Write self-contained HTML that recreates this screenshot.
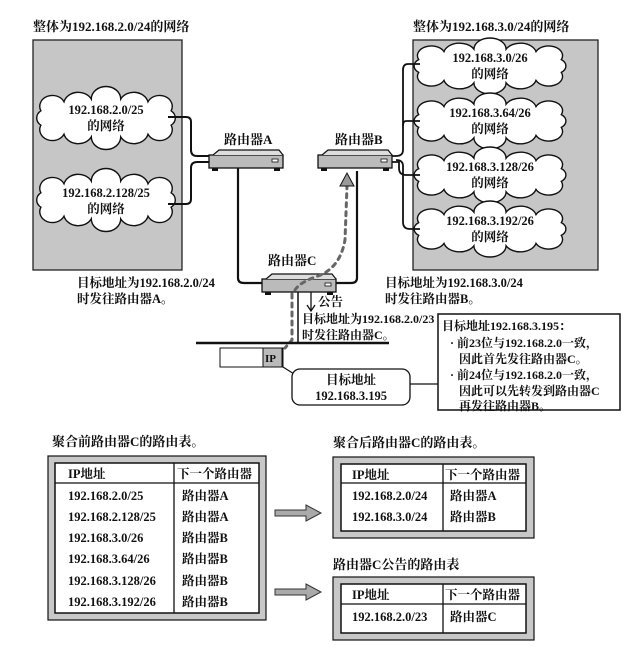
<!DOCTYPE html>
<html><head><meta charset="utf-8"><style>
html,body{margin:0;padding:0;background:#fff;}
svg{display:block;font-family:"Liberation Serif","Noto Serif CJK SC","Noto Sans CJK SC",serif;font-weight:bold;}
text{fill:#111;}
</style></head><body>
<svg width="633" height="655" viewBox="0 0 633 655" xmlns="http://www.w3.org/2000/svg">
<defs>
<path id="cloud" vector-effect="non-scaling-stroke" d="M -62,-8 A 12 12 0 0 1 -40,-18 A 14 14 0 0 1 -14,-21 A 14 14 0 0 1 14,-21 A 14 14 0 0 1 40,-18 A 12 12 0 0 1 62,-8 A 10 10 0 0 1 62,8 A 12 12 0 0 1 40,18 A 14 14 0 0 1 14,21 A 14 14 0 0 1 -14,21 A 14 14 0 0 1 -40,18 A 12 12 0 0 1 -62,8 A 10 10 0 0 1 -62,-8 Z" fill="#fff" stroke="#111" stroke-width="1.4"/>
<g id="router"><rect x="0" y="3" width="74" height="13" fill="#bbb" stroke="#111" stroke-width="1.3"/><path d="M4,3 L10,-2 L70,-2 L74,3" fill="#ddd" stroke="#111" stroke-width="1.2"/><rect x="3" y="16" width="6" height="3" fill="#111"/><rect x="65" y="16" width="6" height="3" fill="#111"/><rect x="63" y="7" width="6" height="3" fill="#fff" stroke="#111" stroke-width="0.8"/></g>
</defs>

<!-- left network -->
<text x="33" y="31" font-size="13">整体为192.168.2.0/24的网络</text>
<rect x="33" y="40" width="149" height="230" fill="#c6c6c6" stroke="#222" stroke-width="1.3"/>
<use href="#cloud" transform="translate(106,118) scale(1.05,0.9)"/>
<text x="106" y="114" font-size="12.5" text-anchor="middle">192.168.2.0/25</text>
<text x="106" y="130" font-size="12.5" text-anchor="middle">的网络</text>
<use href="#cloud" transform="translate(106,200) scale(1.05,0.9)"/>
<text x="106" y="197" font-size="12.5" text-anchor="middle">192.168.2.128/25</text>
<text x="106" y="213" font-size="12.5" text-anchor="middle">的网络</text>
<path d="M168,117 H186 Q191,117 191,122 V150 Q191,156 197,156 H210" fill="none" stroke="#111" stroke-width="2"/>
<path d="M168,204 H186 Q191,204 191,199 V168 Q191,162 197,162 H210" fill="none" stroke="#111" stroke-width="2"/>

<!-- right network -->
<text x="413" y="31" font-size="13">整体为192.168.3.0/24的网络</text>
<rect x="413" y="40" width="185" height="230" fill="#c6c6c6" stroke="#222" stroke-width="1.3"/>
<g font-size="12.5" text-anchor="middle">
<use href="#cloud" transform="translate(490,66) scale(1.15,0.8)"/>
<text x="490" y="62">192.168.3.0/26</text><text x="490" y="78">的网络</text>
<use href="#cloud" transform="translate(490,121) scale(1.15,0.8)"/>
<text x="490" y="117">192.168.3.64/26</text><text x="490" y="133">的网络</text>
<use href="#cloud" transform="translate(490,175) scale(1.15,0.8)"/>
<text x="490" y="171">192.168.3.128/26</text><text x="490" y="187">的网络</text>
<use href="#cloud" transform="translate(490,229) scale(1.15,0.8)"/>
<text x="490" y="225">192.168.3.192/26</text><text x="490" y="241">的网络</text>
</g>
<path d="M420,64 H408 Q403,64 403,70 V150 Q403,156 396,156 H392" fill="none" stroke="#111" stroke-width="1.8"/>
<path d="M420,121 H406 Q403,121 403,126" fill="none" stroke="#111" stroke-width="1.8"/>
<path d="M420,175 H406 Q399,175 399,168 V162 H392" fill="none" stroke="#111" stroke-width="1.8"/>
<path d="M420,229 H410 Q403,229 403,222 V166 Q403,160 396,160" fill="none" stroke="#111" stroke-width="1.8"/>

<!-- routers -->
<text x="224" y="144" font-size="13">路由器A</text>
<use href="#router" x="209" y="152"/>
<text x="335" y="144" font-size="13">路由器B</text>
<use href="#router" x="318" y="152"/>
<text x="268" y="265" font-size="13">路由器C</text>
<path d="M238,168 V278 Q238,283 244,283 H263" fill="none" stroke="#111" stroke-width="2.2"/>
<path d="M357,171 V278 Q357,283 351,283 H336" fill="none" stroke="#111" stroke-width="2.2"/>
<use href="#router" x="262" y="276"/>
<!-- dashed packet path -->
<path d="M295,290 Q300,282 318,276 Q340,268 345,240 L347,186" fill="none" stroke="#666" stroke-width="3" stroke-dasharray="4,5" stroke-linecap="round"/>
<path d="M340,186 L347,173 L354,186 Z" fill="#999" stroke="#111"/>
<path d="M292,294 V340 L285,348" fill="none" stroke="#666" stroke-width="3" stroke-dasharray="4,5" stroke-linecap="round"/>
<line x1="298" y1="292" x2="298" y2="343" stroke="#111" stroke-width="1.5"/>

<text x="77" y="287" font-size="12.5">目标地址为192.168.2.0/24</text>
<text x="77" y="303" font-size="12.5">时发往路由器A。</text>
<text x="385" y="287" font-size="12.5">目标地址为192.168.3.0/24</text>
<text x="385" y="303" font-size="12.5">时发往路由器B。</text>

<path d="M311,292 V310 M307,305 L311,311 L315,305" fill="none" stroke="#111" stroke-width="1.3"/>
<text x="318" y="306" font-size="12.5">公告</text>
<text x="302" y="323" font-size="12">目标地址为192.168.2.0/23</text>
<text x="302" y="339" font-size="12">时发往路由器C。</text>
<line x1="196" y1="343" x2="389" y2="343" stroke="#111" stroke-width="2.5"/>
<rect x="220" y="348" width="63" height="19" fill="#fff" stroke="#111" stroke-width="1"/>
<rect x="263" y="348" width="19" height="19" fill="#bbb" stroke="#111" stroke-width="1"/>
<text x="265" y="362" font-size="11">IP</text>
<path d="M283,367 L302,379" stroke="#111" stroke-width="1.2"/>
<rect x="292" y="369" width="118" height="36" rx="8" fill="#fff" stroke="#111" stroke-width="1.3"/>
<text x="351" y="384" font-size="12.5" text-anchor="middle">目标地址</text>
<text x="351" y="400" font-size="12.5" text-anchor="middle">192.168.3.195</text>
<line x1="410" y1="384" x2="438" y2="384" stroke="#111" stroke-width="1.2"/>
<rect x="438" y="314" width="182" height="96" fill="#fff" stroke="#111" stroke-width="1.5"/>
<g font-size="12">
<text x="442" y="330">目标地址192.168.3.195：</text>
<text x="450" y="347">· 前23位与192.168.2.0一致，</text>
<text x="459" y="363">因此首先发往路由器C。</text>
<text x="450" y="379">· 前24位与192.168.2.0一致，</text>
<text x="459" y="395">因此可以先转发到路由器C</text>
<text x="459" y="410">再发往路由器B。</text>
</g>

<!-- tables -->
<g font-size="12.5">
<text x="52" y="446" font-size="13">聚合前路由器C的路由表。</text>
<rect x="48" y="456" width="218" height="164" fill="#c8c8c8" stroke="#111" stroke-width="1.2"/>
<rect x="55" y="463" width="204" height="150" fill="#fff" stroke="#111" stroke-width="1.5"/>
<line x1="55" y1="483" x2="259" y2="483" stroke="#111" stroke-width="1.3"/>
<line x1="174" y1="463" x2="174" y2="613" stroke="#111" stroke-width="1.3"/>
<text x="68" y="478">IP地址</text><text x="177" y="478">下一个路由器</text>
<text x="68" y="500">192.168.2.0/25</text><text x="182" y="500">路由器A</text>
<text x="68" y="521">192.168.2.128/25</text><text x="182" y="521">路由器A</text>
<text x="68" y="542">192.168.3.0/26</text><text x="182" y="542">路由器B</text>
<text x="68" y="563">192.168.3.64/26</text><text x="182" y="563">路由器B</text>
<text x="68" y="585">192.168.3.128/26</text><text x="182" y="585">路由器B</text>
<text x="68" y="606">192.168.3.192/26</text><text x="182" y="606">路由器B</text>

<path d="M275,510 H306 V505 L321,513 L306,521 V516 H275 Z" fill="#aaa" stroke="#333"/>
<path d="M275,589 H306 V584 L321,592 L306,600 V595 H275 Z" fill="#aaa" stroke="#333"/>

<text x="333" y="447" font-size="13">聚合后路由器C的路由表。</text>
<rect x="333" y="457" width="201" height="81" fill="#c8c8c8" stroke="#111" stroke-width="1.2"/>
<rect x="341" y="464" width="185" height="67" fill="#fff" stroke="#111" stroke-width="1.5"/>
<line x1="341" y1="483" x2="526" y2="483" stroke="#111" stroke-width="1.3"/>
<line x1="443" y1="464" x2="443" y2="531" stroke="#111" stroke-width="1.3"/>
<text x="352" y="479">IP地址</text><text x="445" y="479">下一个路由器</text>
<text x="352" y="500">192.168.2.0/24</text><text x="450" y="500">路由器A</text>
<text x="352" y="521">192.168.3.0/24</text><text x="450" y="521">路由器B</text>

<text x="333" y="569" font-size="13">路由器C公告的路由表</text>
<rect x="333" y="577" width="201" height="63" fill="#c8c8c8" stroke="#111" stroke-width="1.2"/>
<rect x="341" y="584" width="185" height="49" fill="#fff" stroke="#111" stroke-width="1.5"/>
<line x1="341" y1="604" x2="526" y2="604" stroke="#111" stroke-width="1.3"/>
<line x1="443" y1="584" x2="443" y2="633" stroke="#111" stroke-width="1.3"/>
<text x="352" y="599">IP地址</text><text x="445" y="599">下一个路由器</text>
<text x="352" y="621">192.168.2.0/23</text><text x="450" y="621">路由器C</text>
</g>
</svg>
</body></html>
